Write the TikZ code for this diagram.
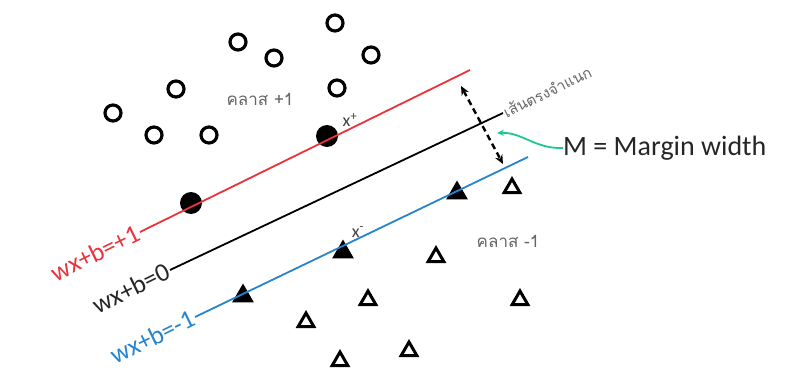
\documentclass[tikz,border=0pt]{standalone}
\usepackage{fontspec}
\setmainfont{Carlito}
\newfontfamily\thaifont[Script=Thai]{Loma}
\usepackage{xcolor}
\usetikzlibrary{positioning, arrows.meta, shapes.geometric}
\definecolor{planered}{RGB}{232,52,58}
\definecolor{planeblue}{RGB}{38,132,205}
\definecolor{margingreen}{RGB}{30,200,140}

\begin{document}
\begin{tikzpicture}[
  x=1pt, y=-1pt,
  >={Stealth[length=9pt, width=8pt]},
  opendot/.style={circle, draw, line width=3.2pt, minimum size=16pt, inner sep=0pt},
  fulldot/.style={circle, fill, minimum size=22pt, inner sep=0pt},
  opentri/.style={regular polygon, regular polygon sides=3, draw, line width=3pt, minimum size=18pt, inner sep=0pt},
  fulltri/.style={regular polygon, regular polygon sides=3, fill, minimum size=25pt, inner sep=0pt},
  plane/.style={line width=1.8pt},
  eqlabel/.style={font=\fontsize{26}{28}\selectfont, rotate=26, anchor=east, inner sep=0pt},
  classlabel/.style={font=\thaifont\fontsize{17}{19}\selectfont, text=black!60},
  svlabel/.style={font=\fontsize{18}{20}\selectfont, text=black!75, inner sep=0pt},
]
\useasboundingbox (0,0) rectangle (788,372);

% Class +1 (open circles)
\node[opendot] (p1) at (335,23) {};
\node[opendot] (p2) at (238,42) {};
\node[opendot] (p3) at (274,58) {};
\node[opendot] (p4) at (371,55) {};
\node[opendot] (p5) at (176,89) {};
\node[opendot] (p6) at (337,88) {};
\node[opendot] (p7) at (113,113) {};
\node[opendot] (p8) at (154,135) {};
\node[opendot] (p9) at (209,135) {};
\node[classlabel] (pluscls) at (260,99) {คลาส +1};

% Support vectors of class +1
\node[fulldot] (sp1) at (327,136) {};
\node[fulldot] (sp2) at (191,203) {};
\node[svlabel] (xplus) at (350,120) {x\textsuperscript{+}};

% Class -1 (open triangles)
\node[opentri] (n1) at (512,188) {};
\node[opentri] (n2) at (436,257) {};
\node[opentri] (n3) at (368,300) {};
\node[opentri] (n4) at (520,300) {};
\node[opentri] (n5) at (306,322) {};
\node[opentri] (n6) at (409,351) {};
\node[opentri] (n7) at (340,361) {};
\node[classlabel] (minuscls) at (508,241) {คลาส -1};

% Support vectors of class -1
\node[fulltri] (sm1) at (457,193) {};
\node[fulltri] (sm2) at (343,252) {};
\node[fulltri] (sm3) at (243,296) {};
\node[svlabel] (xminus) at (358,232) {x\textsuperscript{-}};

% Hyperplanes
\coordinate (plusL) at (140,232);
\coordinate (plusR) at (470,70);
\coordinate (zeroL) at (170,270);
\coordinate (zeroR) at (503,113);
\coordinate (minusL) at (195,317);
\coordinate (minusR) at (528,157);
\draw[plane, planered] (plusL) -- (plusR);
\draw[plane] (zeroL) -- (zeroR);
\draw[plane, planeblue] (minusL) -- (minusR);
\node[eqlabel, text=planered] (pluseq) at ([xshift=-2pt]plusL) {wx+b=+1};
\node[eqlabel, text=black!85] (zeroeq) at ([xshift=-2pt]zeroL) {wx+b=0};
\node[eqlabel, text=planeblue] (minuseq) at ([xshift=-2pt]minusL) {wx+b=-1};
\node[font=\thaifont\fontsize{15}{17}\selectfont, text=black!60, rotate=26, anchor=west, inner sep=1pt] (sepline) at (zeroR) {เส้นตรงจำแนก};

% Margin
\coordinate (mtop) at (461,86);
\coordinate (mbot) at (503,164);
\draw[<->, line width=2.4pt, dash pattern=on 6pt off 4pt] (mtop) -- (mbot);
\node[font=\fontsize{28}{30}\selectfont, text=black!85, anchor=west, inner sep=0pt] (mwidth) at (563,148) {M = Margin width};
\coordinate (mgap) at (497,133);
\draw[->, margingreen, line width=1.8pt, >={Stealth[length=7pt, width=6pt]}]
  (mwidth.west) .. controls (535,149) and (522,132) .. (mgap);
\end{tikzpicture}
\end{document}
